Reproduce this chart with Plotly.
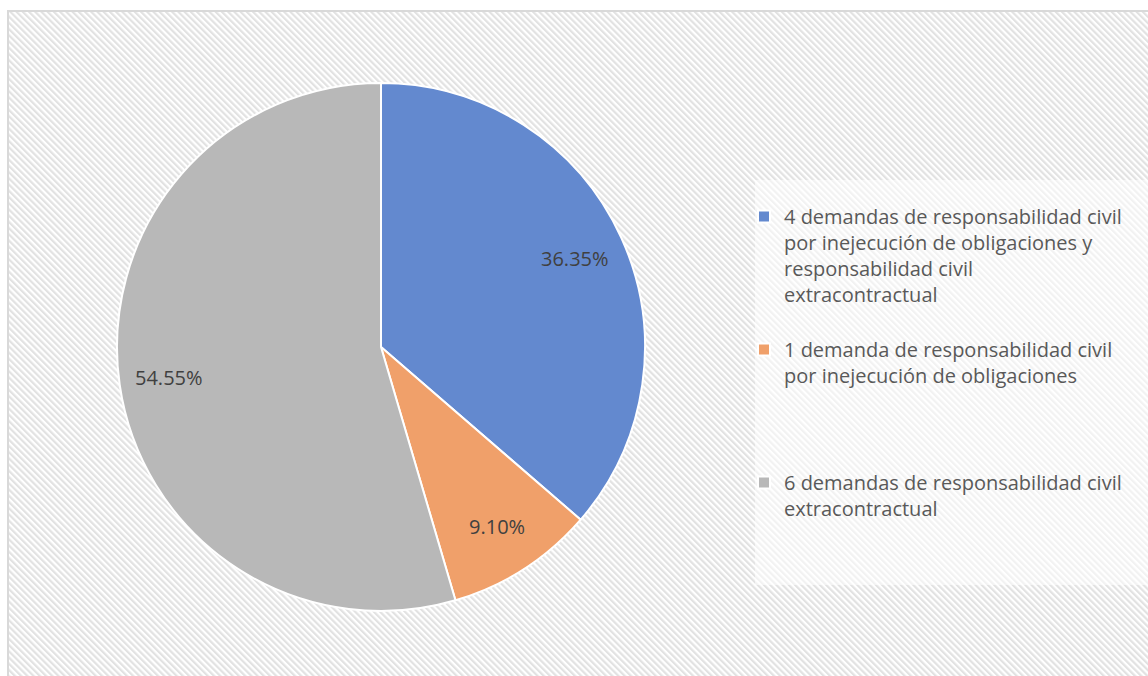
import base64
import math
import plotly.graph_objects as go

# ---- data ----
categories = [
    "4 demandas de responsabilidad civil<br>por inejecución de obligaciones y<br>responsabilidad civil<br>extracontractual",
    "1 demanda de responsabilidad civil<br>por inejecución de obligaciones",
    "6 demandas de responsabilidad civil<br>extracontractual",
]
values = [36.35, 9.10, 54.55]
slice_colors = ["#6389CF", "#F0A06A", "#B8B8B8"]

W, H = 1148, 676
FONT = "'Open Sans', Lato, sans-serif"

# legend spacing padding (blank lines) to mimic the original's even item spacing
pad_lines = [1, 3, 0]
legend_labels = [c + "<br> " * n for c, n in zip(categories, pad_lines)]

# hatched background as an svg image
bw, bh = 1140, 665
svg = (
    f"<svg xmlns='http://www.w3.org/2000/svg' width='{bw}' height='{bh}'>"
    "<defs><pattern id='p' width='4.4' height='4.4' patternUnits='userSpaceOnUse' "
    "patternTransform='rotate(-45)'><rect width='2.2' height='4.4' fill='#e2e2e2'/></pattern></defs>"
    "<rect width='100%' height='100%' fill='#ffffff'/>"
    "<rect width='100%' height='100%' fill='url(#p)'/></svg>"
)
src = "data:image/svg+xml;base64," + base64.b64encode(svg.encode()).decode()

cx, cy, r = 381, 347, 264
dom_x = [(cx - r) / W, (cx + r) / W]
dom_y = [(H - cy - r) / H, (H - cy + r) / H]

fig = go.Figure(
    go.Pie(
        labels=legend_labels,
        values=values,
        sort=False,
        direction="clockwise",
        rotation=0,
        marker=dict(colors=slice_colors, line=dict(color="#ffffff", width=2)),
        textinfo="none",
        hoverinfo="percent",
        domain=dict(x=dom_x, y=dom_y),
    )
)

# data labels placed like the original (outer part of each slice), derived from the values
total = sum(values)
annotations = []
cum = 0.0
for v in values:
    mid = (cum + v / 2) / total * 2 * math.pi
    cum += v
    rr = 0.81 * r
    px = cx + rr * math.sin(mid)
    py = cy - rr * math.cos(mid)
    annotations.append(dict(
        x=px / W, y=1 - py / H, xref="paper", yref="paper",
        text=f"{v / total * 100:.2f}%", showarrow=False,
        font=dict(family=FONT, size=20, color="#404040"),
        xanchor="center", yanchor="middle",
    ))

fig.update_layout(
    width=W,
    height=H,
    margin=dict(l=0, r=0, t=0, b=0),
    paper_bgcolor="#ffffff",
    font=dict(family=FONT, color="#595959"),
    images=[
        dict(source=src, xref="paper", yref="paper", x=8 / W, y=1 - 11 / H,
             sizex=bw / W, sizey=bh / H, xanchor="left", yanchor="top",
             sizing="stretch", layer="below")
    ],
    shapes=[
        dict(type="rect", xref="paper", yref="paper", x0=755 / W, x1=1.01,
             y0=1 - 585 / H, y1=1 - 180 / H, fillcolor="rgba(255,255,255,0.55)",
             line=dict(width=0), layer="below"),
        dict(type="rect", xref="paper", yref="paper", x0=8 / W, x1=1.01,
             y0=-0.01, y1=1 - 11 / H, fillcolor="rgba(0,0,0,0)",
             line=dict(color="#d9d9d9", width=2), layer="above"),
    ],
    annotations=annotations,
    legend=dict(
        x=744 / W, xanchor="left", y=1 - 197 / H, yanchor="top",
        valign="top", bgcolor="rgba(0,0,0,0)",
        font=dict(family=FONT, size=20, color="#595959"),
    ),
    showlegend=True,
)

fig.write_html("out.html")
